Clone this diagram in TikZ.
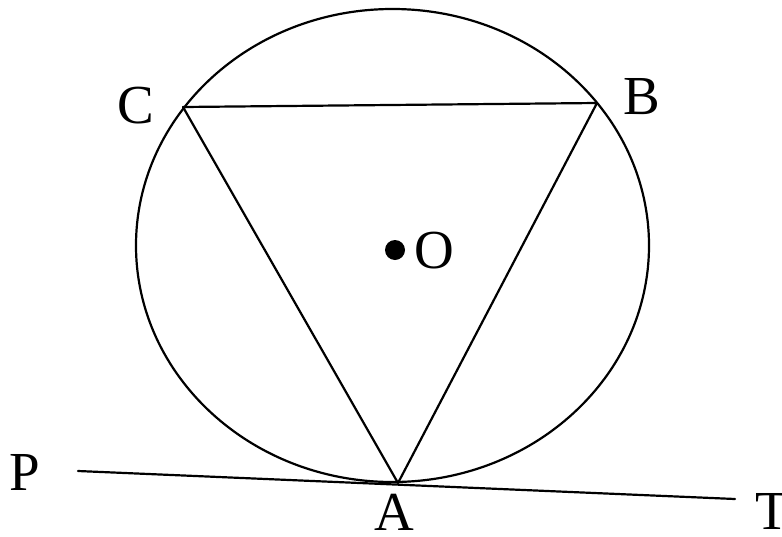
\documentclass[tikz,border=0pt]{standalone}
\usepackage{fontspec}
\setmainfont{Liberation Serif}
\begin{document}
\begin{tikzpicture}[x=1pt,y=-1pt,
  geo/.style={line width=2.2pt, line cap=round, line join=round},
  lbl/.style={inner sep=0pt, font=\fontsize{55}{60}\selectfont}]
\useasboundingbox (0,0) rectangle (782,536);
% points
\coordinate (A) at (398,483);
\coordinate (B) at (597,103);
\coordinate (C) at (183,107);
\coordinate (O) at (395,250);
\coordinate (Pend) at (78,471);
\coordinate (Tend) at (735,499);
% circle
\draw[geo] (392.5,245.5) ellipse [x radius=256.5, y radius=236.5];
% triangle
\draw[geo] (A) -- (B) -- (C) -- cycle;
% tangent
\draw[geo] (Pend) -- (Tend);
% centre
\fill (O) circle [radius=10];
% labels
\node[lbl] (lC) at (136,106) {C};
\node[lbl] (lB) at (642,97) {B};
\node[lbl] (lO) at (434,251) {O};
\node[lbl] (lA) at (394,512) {A};
\node[lbl] (lP) at (25,472) {P};
\node[lbl] (lT) at (772,511) {T};
\end{tikzpicture}
\end{document}
